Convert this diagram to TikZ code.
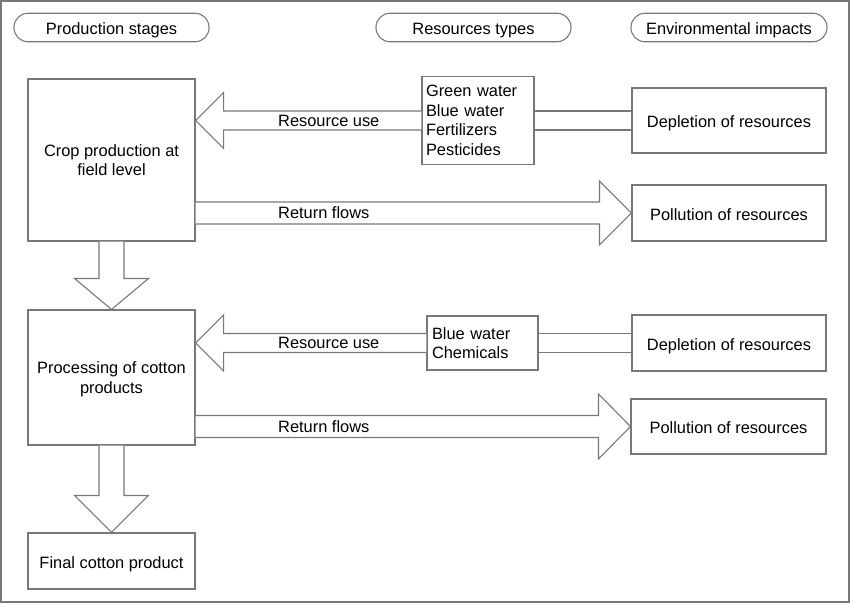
\documentclass[tikz,border=0pt]{standalone}
\usepackage{fontspec}
\setmainfont{Liberation Sans}
\usetikzlibrary{calc}
\definecolor{lg}{RGB}{120,120,120}
\begin{document}
\begin{tikzpicture}[x=1pt,y=-1pt,
  ln/.style={draw=lg,line width=1.1pt},
  txt/.style={font=\fontsize{16.4}{19.5}\selectfont,text=black},
  one/.style={text height=14pt,text depth=0pt},
  pill/.style={ln,txt,one,rounded corners=14pt,minimum height=28.5pt,inner sep=0pt},
  boxa/.style={ln,txt,rectangle,inner sep=0pt,align=center},
  resbox/.style={ln,txt,rectangle,inner sep=0pt,align=left},
  lab/.style={txt,anchor=west,inner sep=0pt}]
\useasboundingbox (0,0) rectangle (850,603);
\draw[lg,line width=1.1pt] (1,1) rectangle (849,602);
% headers
\node[pill,minimum width=195pt] (p1) at (111.5,27.5) {Production stages};
\node[pill,minimum width=195pt] (p2) at (473.5,27.5) {Resources types};
\node[pill,minimum width=196pt] (p3) at (729,27.5) {Environmental impacts};
% stages
\node[boxa,minimum width=167pt,minimum height=162pt] (b1) at (111.5,160) {Crop production at\\field level};
\node[boxa,minimum width=167pt,minimum height=135pt,text depth=0pt] (b2) at (111.5,377.5) {Processing of cotton\\products};
\node[boxa,one,minimum width=167pt,minimum height=56pt] (b3) at (111.5,561) {Final cotton product};
% resources
\node[resbox,minimum width=112pt,minimum height=88pt,text width=104pt] (r1) at (478,120.5) {Green water\\Blue water\\Fertilizers\\Pesticides};
\node[resbox,minimum width=111pt,minimum height=54pt,text width=101pt] (r2) at (482.5,343) {Blue water\\Chemicals};
% impacts
\node[boxa,one,minimum width=194pt,minimum height=65pt] (d1) at (729,120.5) {Depletion of resources};
\node[boxa,one,minimum width=194pt,minimum height=56pt] (q1) at (729,213) {Pollution of resources};
\node[boxa,one,minimum width=194pt,minimum height=56pt] (d2) at (729,343) {Depletion of resources};
\node[boxa,one,minimum width=195pt,minimum height=55pt] (q2) at (728.5,426.5) {Pollution of resources};
% resource use arrows
\draw[ln,fill=white] ($(r1.west)+(0,-9.5)$) -- ($(b1.east |- r1.west)+(28,-9.5)$) -- ++(0,-18.5) -- (b1.east |- r1.west) -- ++(28,28) -- ++(0,-18.5) -- ($(r1.west)+(0,9.5)$);
\draw[ln,fill=white] ($(r2.west)+(0,-9.5)$) -- ($(b2.east |- r2.west)+(28,-9.5)$) -- ++(0,-18.5) -- (b2.east |- r2.west) -- ++(28,28) -- ++(0,-18.5) -- ($(r2.west)+(0,9.5)$);
% resource to impact lines
\draw[ln] ($(r1.east)+(0,-9.5)$) -- ($(d1.west)+(0,-9.5)$);
\draw[ln] ($(r1.east)+(0,9.5)$) -- ($(d1.west)+(0,9.5)$);
\draw[ln] ($(r2.east)+(0,-9.5)$) -- ($(d2.west)+(0,-9.5)$);
\draw[ln] ($(r2.east)+(0,9.5)$) -- ($(d2.west)+(0,9.5)$);
% return flows arrows
\draw[ln,fill=white] ($(b1.east |- q1.west)+(0,-11)$) -- ($(q1.west)+(-32,-11)$) -- ++(0,-21) -- (q1.west) -- ++(-32,32) -- ++(0,-21) -- ($(b1.east |- q1.west)+(0,11)$);
\draw[ln,fill=white] ($(b2.east |- q2.west)+(0,-11)$) -- ($(q2.west)+(-32,-11)$) -- ++(0,-21.5) -- (q2.west) -- ++(-32,32.5) -- ++(0,-21.5) -- ($(b2.east |- q2.west)+(0,11)$);
% down arrows
\draw[ln,fill=white] ($(b1.south)+(-12.5,0)$) -- ($(b2.north)+(-12.5,-31)$) -- ++(-24.5,0) -- (b2.north) -- ++(37,-31) -- ++(-24.5,0) -- ($(b1.south)+(12.5,0)$);
\draw[ln,fill=white] ($(b2.south)+(-12.5,0)$) -- ($(b3.north)+(-12.5,-37)$) -- ++(-24.5,0) -- (b3.north) -- ++(37,-37) -- ++(-24.5,0) -- ($(b2.south)+(12.5,0)$);
% labels
\node[lab] (l1) at (278,120.5) {Resource use};
\node[lab] (l2) at (278,213) {Return flows};
\node[lab] (l3) at (278,343) {Resource use};
\node[lab] (l4) at (278,426.5) {Return flows};
\end{tikzpicture}
\end{document}
